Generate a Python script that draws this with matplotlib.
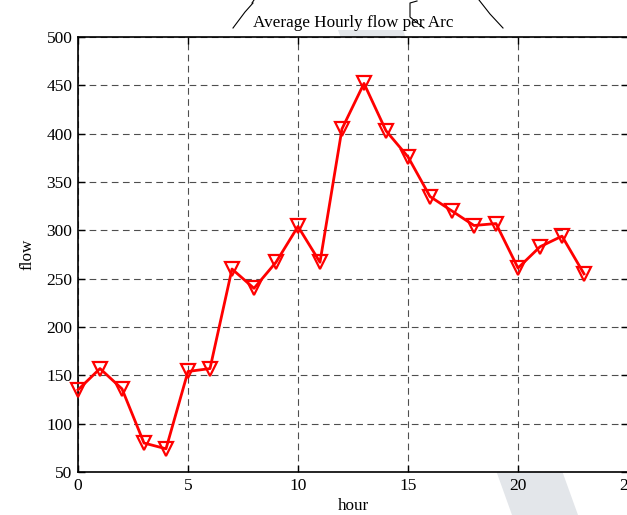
import matplotlib
matplotlib.use("Agg")
import matplotlib.pyplot as plt
from matplotlib.lines import Line2D
from matplotlib.patches import Polygon

hours = list(range(24))
flow = [135, 157, 136, 80, 74, 154, 157, 260, 240, 267,
        304, 267, 405, 452, 403, 376, 335, 320, 305, 307,
        261, 283, 294, 255]
x_ticks = [0, 5, 10, 15, 20, 25]
y_ticks = [50, 100, 150, 200, 250, 300, 350, 400, 450, 500]

plt.rcParams['font.family'] = ['Liberation Serif', 'DejaVu Serif']

W, H = 627, 515
fig = plt.figure(figsize=(W / 100, H / 100), dpi=100)

def fx(px):
    return px / W

def fy(py):
    return 1 - py / H

# watermark stripe (behind axes)
stripe = Polygon([(fx(338), fy(30)), (fx(403), fy(30)), (fx(578), fy(515)), (fx(512), fy(515))],
                 closed=True, transform=fig.transFigure, facecolor='#e3e6ea',
                 edgecolor='none', zorder=0)
fig.patches.append(stripe)

ax = fig.add_axes([fx(78), fy(472), (628 - 78) / W, (472 - 37) / H])
ax.set_zorder(1)
ax.set_facecolor('white')

ax.plot(hours, flow, color='red', linewidth=2.0, marker='v', markersize=10,
        markerfacecolor='none', markeredgecolor='red', markeredgewidth=1.6,
        zorder=3, clip_on=False)

ax.set_xlim(0, 25)
ax.set_ylim(50, 500)
ax.set_xticks(x_ticks)
ax.set_yticks(y_ticks)
ax.grid(True, color='#222222', linestyle=(0, (6, 4)), linewidth=0.8, alpha=0.8)
ax.tick_params(direction='in', top=True, right=True, length=5, width=1.0,
               labelsize=12.5, pad=4)
for s in ax.spines.values():
    s.set_linewidth(1.2)

ax.set_title('Average Hourly flow per Arc', fontsize=12.3, pad=7)
ax.set_xlabel('hour', fontsize=12.3, labelpad=3)
ax.set_ylabel('flow', fontsize=12.3, labelpad=8)

# scanned overlay strokes around the title
strokes = [
    [(233, 28), (245, 12), (253, 3)],
    [(252, 3), (254, 0)],
    [(417, 1), (410, 3), (410, 17), (416, 22), (424, 28)],
    [(479, 0), (490, 14), (503, 28)],
]
for pts in strokes:
    xs = [fx(p[0]) for p in pts]
    ys = [fy(p[1]) for p in pts]
    fig.add_artist(Line2D(xs, ys, transform=fig.transFigure, color='black',
                          linewidth=0.8, zorder=5))

fig.savefig('out.png', dpi=100)
